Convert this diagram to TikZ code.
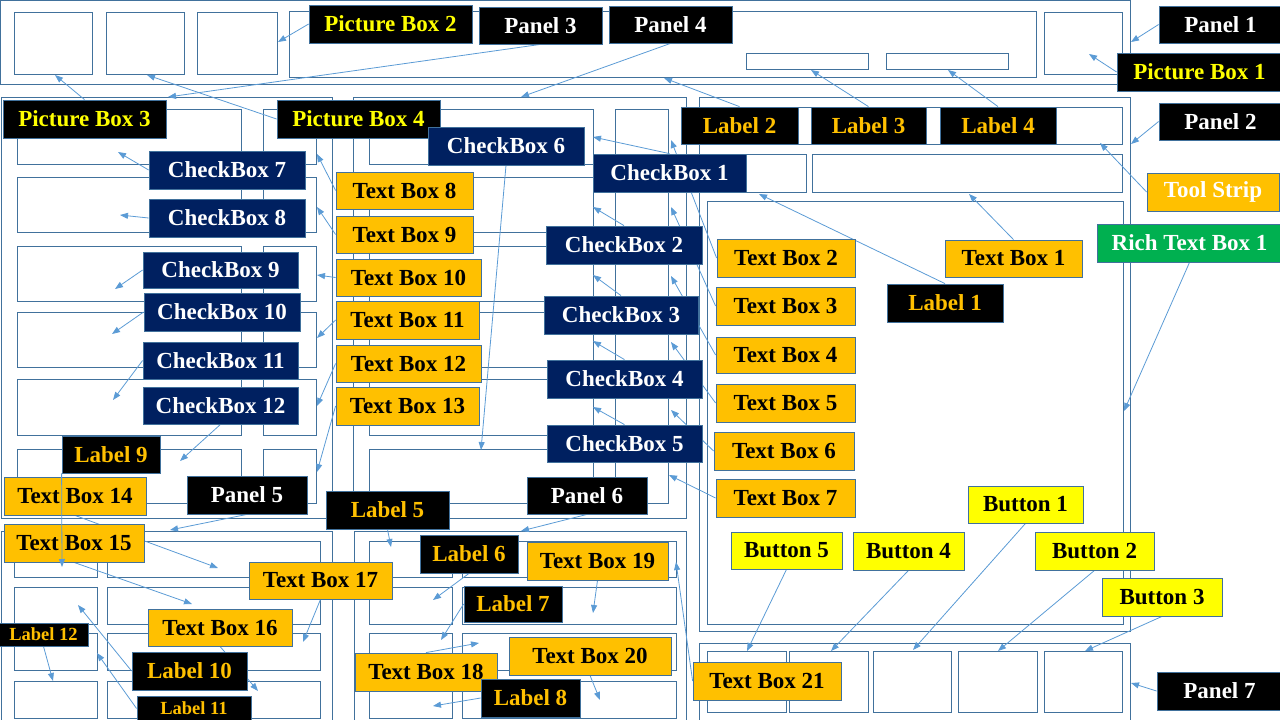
\documentclass[tikz,border=0pt]{standalone}
\usepackage{fontspec}
\setmainfont{Liberation Serif}
\usetikzlibrary{arrows.meta}
\pgfdeclarelayer{wfl}
\pgfdeclarelayer{arl}
\pgfsetlayers{wfl,arl,main}
\definecolor{wirec}{HTML}{41719C}
\definecolor{arrc}{HTML}{5B9BD5}
\definecolor{navy}{HTML}{002060}
\definecolor{orng}{HTML}{FFC000}
\definecolor{grn}{HTML}{00B050}
\definecolor{ylw}{HTML}{FFFF00}
\newcommand\mybox[7]{%
  \pgfmathsetmacro\mbw{#4-#2}\pgfmathsetmacro\mbh{#5-#3}%
  \pgfmathsetmacro\mbx{(#2+#4)/2}\pgfmathsetmacro\mby{(#3+#5)/2}%
  \node[#6, minimum width=\mbw pt, minimum height=\mbh pt] (#1) at (\mbx,\mby) {#7};}
\tikzset{
  base/.style={draw=wirec, line width=0.8pt, inner sep=0pt, font=\bfseries\fontsize{23}{24}\selectfont},
  pnl/.style={base, fill=black, text=white},
  pic/.style={base, fill=black, text=ylw},
  lbl/.style={base, fill=black, text=orng},
  lbs/.style={lbl, font=\bfseries\fontsize{18.5}{19}\selectfont},
  chk/.style={base, fill=navy, text=white},
  txt/.style={base, fill=orng, text=black},
  tsw/.style={base, fill=orng, text=white},
  rtb/.style={base, fill=grn, text=white},
  btn/.style={base, fill=ylw, text=black},
  wf/.style={draw=wirec, line width=0.9pt},
  arr/.style={draw=arrc, line width=0.8pt, -{Triangle[length=8pt,width=6pt]}},
}
\begin{document}
\begin{tikzpicture}[x=1pt,y=-1pt]
\useasboundingbox (0,0) rectangle (1280,720);
% ---------------- wireframe ----------------
\begin{pgfonlayer}{wfl}
% Panel 1
\draw[wf] (0.5,0.5) rectangle (1130,84);
\draw[wf] (14,12) rectangle (92,74);
\draw[wf] (106,12) rectangle (184,74);
\draw[wf] (197,12) rectangle (277,74);
\draw[wf] (289,11) rectangle (1036,77);
\draw[wf] (746,53) rectangle (868,69);
\draw[wf] (886,53) rectangle (1008,69);
\draw[wf] (1044,12) rectangle (1122,74);
% Panels 3,4,5,6
\draw[wf] (1,97) rectangle (332,518);
\draw[wf] (353,97) rectangle (686,518);
\draw[wf] (1,531) rectangle (332,726);
\draw[wf] (354,531) rectangle (686,726);
\foreach \ya/\yb in {109/164,177/232,246/301,312/367,379/435,449/503}{
  \draw[wf] (17,\ya) rectangle (241,\yb);
  \draw[wf] (263,\ya) rectangle (316,\yb);
  \draw[wf] (369,\ya) rectangle (593,\yb);
  \draw[wf] (615,\ya) rectangle (668,\yb);
}
\foreach \ya/\yb in {541/577,587/624,633/670,681/718}{
  \draw[wf] (14,\ya) rectangle (97,\yb);
  \draw[wf] (107,\ya) rectangle (320,\yb);
  \draw[wf] (369,\ya) rectangle (452,\yb);
  \draw[wf] (462,\ya) rectangle (676,\yb);
}
% Panel 2
\draw[wf] (699,97) rectangle (1130,631);
\draw[wf] (707,107) rectangle (1122,144);
\draw[wf] (707,154) rectangle (806,192);
\draw[wf] (812,154) rectangle (1122,192);
\draw[wf] (707,201) rectangle (1123,624);
% Panel 7
\draw[wf] (699,643) rectangle (1130,726);
\foreach \xa/\xb in {707/786,789/868,873/951,958/1037,1044/1122}{
  \draw[wf] (\xa,651) rectangle (\xb,712);
}
\end{pgfonlayer}
% ---------------- targets ----------------
\coordinate (t-pb3) at (55,75);
\coordinate (t-pb4) at (147,75);
\coordinate (t-pb2) at (278,42);
\coordinate (t-p3) at (168,97);
\coordinate (t-p4) at (521,97);
\coordinate (t-p1) at (1131,42);
\coordinate (t-pb1) at (1089,54);
\coordinate (t-p2) at (1131,144);
\coordinate (t-ts) at (1100,143);
\coordinate (t-l2) at (664,78);
\coordinate (t-l3) at (811,70);
\coordinate (t-l4) at (948,70);
\coordinate (t-cb1) at (593,137);
\coordinate (t-cb6) at (481,450);
\coordinate (t-tb1) at (969,194);
\coordinate (t-l1) at (759,194);
\coordinate (t-rtb) at (1124,411);
\coordinate (t-cb2) at (593,207);
\coordinate (t-cb3) at (593,275);
\coordinate (t-cb4) at (593,341);
\coordinate (t-cb5) at (593,407);
\coordinate (t-tb2) at (671,140);
\coordinate (t-tb3) at (671,207);
\coordinate (t-tb4) at (671,276);
\coordinate (t-tb5) at (671,342);
\coordinate (t-tb6) at (671,410);
\coordinate (t-tb7) at (669,475);
\coordinate (t-tb8) at (317,154);
\coordinate (t-tb9) at (317,207);
\coordinate (t-tb10) at (317,275);
\coordinate (t-tb11) at (317,338);
\coordinate (t-tb12) at (317,406);
\coordinate (t-tb13) at (317,472);
\coordinate (t-cb7) at (118,152);
\coordinate (t-cb8) at (120,215);
\coordinate (t-cb9) at (115,289);
\coordinate (t-cb10) at (112,334);
\coordinate (t-cb11) at (113,400);
\coordinate (t-cb12) at (180,461);
\coordinate (t-l9) at (62,567);
\coordinate (t-p5) at (170,530);
\coordinate (t-p6) at (521,531);
\coordinate (t-tb14) at (218,568);
\coordinate (t-tb15) at (192,604);
\coordinate (t-l5) at (391,547);
\coordinate (t-l6) at (433,600);
\coordinate (t-l7) at (441,640);
\coordinate (t-l8) at (433,706);
\coordinate (t-tb18) at (479,643);
\coordinate (t-tb19) at (593,613);
\coordinate (t-tb20) at (600,700);
\coordinate (t-tb17) at (303,642);
\coordinate (t-tb16) at (258,691);
\coordinate (t-l10) at (78,605);
\coordinate (t-l11) at (97,653);
\coordinate (t-l12) at (53,681);
\coordinate (t-tb21) at (676,562);
\coordinate (t-p7) at (1131,683);
\coordinate (t-bt1) at (913,650);
\coordinate (t-bt2) at (998,651);
\coordinate (t-bt3) at (1085,651);
\coordinate (t-bt4) at (831,651);
\coordinate (t-bt5) at (747,651);
% ---------------- nodes ----------------
\mybox{p1}{1159}{6}{1282}{43}{pnl}{Panel 1}
\mybox{p2}{1159}{103}{1282}{140}{pnl}{Panel 2}
\mybox{p3}{479}{7}{602}{44}{pnl}{Panel 3}
\mybox{p4}{609}{6}{732}{43}{pnl}{Panel 4}
\mybox{p5}{187}{476}{307}{514}{pnl}{Panel 5}
\mybox{p6}{527}{477}{647}{514}{pnl}{Panel 6}
\mybox{p7}{1157}{672}{1282}{710}{pnl}{Panel 7}
\mybox{pb1}{1117}{53}{1282}{91}{pic}{Picture Box 1}
\mybox{pb2}{309}{5}{472}{43}{pic}{Picture Box 2}
\mybox{pb3}{3}{100}{166}{138}{pic}{Picture Box 3}
\mybox{pb4}{277}{100}{440}{138}{pic}{Picture Box 4}
\mybox{ts}{1147}{173}{1279}{211}{tsw}{Tool Strip}
\mybox{rtb}{1097}{224}{1282}{262}{rtb}{Rich Text Box 1}
\mybox{l1}{887}{284}{1003}{322}{lbl}{Label 1}
\mybox{l2}{681}{107}{798}{144}{lbl}{Label 2}
\mybox{l3}{811}{107}{926}{144}{lbl}{Label 3}
\mybox{l4}{940}{107}{1056}{144}{lbl}{Label 4}
\mybox{l5}{326}{491}{449}{529}{lbl}{Label 5}
\mybox{l6}{420}{535}{518}{573}{lbl}{Label 6}
\mybox{l7}{464}{586}{562}{622}{lbl}{Label 7}
\mybox{l9}{62}{436}{160}{473}{lbl}{Label 9}
\mybox{l10}{132}{652}{247}{690}{lbl}{Label 10}
\mybox{l11}{137}{696}{251}{721}{lbs}{Label 11}
\mybox{l12}{-1}{623}{88}{646}{lbs}{Label 12}
\mybox{cb1}{593}{154}{746}{192}{chk}{CheckBox 1}
\mybox{cb2}{546}{226}{702}{264}{chk}{CheckBox 2}
\mybox{cb3}{544}{296}{698}{334}{chk}{CheckBox 3}
\mybox{cb4}{547}{360}{702}{398}{chk}{CheckBox 4}
\mybox{cb5}{547}{425}{702}{462}{chk}{CheckBox 5}
\mybox{cb6}{428}{127}{584}{165}{chk}{CheckBox 6}
\mybox{cb7}{149}{151}{305}{189}{chk}{CheckBox 7}
\mybox{cb8}{149}{199}{305}{237}{chk}{CheckBox 8}
\mybox{cb9}{143}{252}{298}{288}{chk}{CheckBox 9}
\mybox{cb10}{144}{293}{300}{331}{chk}{CheckBox 10}
\mybox{cb11}{143}{342}{298}{379}{chk}{CheckBox 11}
\mybox{cb12}{143}{387}{298}{424}{chk}{CheckBox 12}
\mybox{tb1}{945}{240}{1082}{277}{txt}{Text Box 1}
\mybox{tb2}{717}{239}{855}{277}{txt}{Text Box 2}
\mybox{tb3}{716}{287}{855}{325}{txt}{Text Box 3}
\mybox{tb4}{716}{337}{855}{373}{txt}{Text Box 4}
\mybox{tb5}{716}{384}{855}{422}{txt}{Text Box 5}
\mybox{tb6}{714}{432}{854}{470}{txt}{Text Box 6}
\mybox{tb7}{716}{479}{855}{517}{txt}{Text Box 7}
\mybox{tb8}{336}{172}{473}{209}{txt}{Text Box 8}
\mybox{tb9}{336}{216}{473}{253}{txt}{Text Box 9}
\mybox{tb10}{336}{259}{481}{296}{txt}{Text Box 10}
\mybox{tb11}{336}{301}{479}{339}{txt}{Text Box 11}
\mybox{tb12}{336}{345}{481}{382}{txt}{Text Box 12}
\mybox{tb13}{336}{387}{479}{425}{txt}{Text Box 13}
\mybox{tb14}{4}{477}{146}{515}{txt}{Text Box 14}
\mybox{tb15}{4}{524}{144}{562}{txt}{Text Box 15}
\mybox{tb16}{148}{609}{292}{646}{txt}{Text Box 16}
\mybox{tb17}{249}{562}{392}{599}{txt}{Text Box 17}
\mybox{tb18}{355}{653}{497}{691}{txt}{Text Box 18}
\mybox{tb19}{527}{542}{668}{580}{txt}{Text Box 19}
\mybox{tb20}{509}{637}{671}{675}{txt}{Text Box 20}
\mybox{tb21}{693}{662}{841}{700}{txt}{Text Box 21}
\mybox{l8}{481}{679}{580}{717}{lbl}{Label 8}
\mybox{bt1}{968}{486}{1083}{523}{btn}{Button 1}
\mybox{bt2}{1035}{532}{1154}{570}{btn}{Button 2}
\mybox{bt3}{1102}{578}{1222}{616}{btn}{Button 3}
\mybox{bt4}{853}{532}{964}{570}{btn}{Button 4}
\mybox{bt5}{731}{532}{842}{569}{btn}{Button 5}
% ---------------- connectors ----------------
\begin{pgfonlayer}{arl}
\draw[arr] (pb3.north) -- (t-pb3);
\draw[arr] (pb4.west) -- (t-pb4);
\draw[arr] (pb2.west) -- (t-pb2);
\draw[arr] (p3.south) -- (t-p3);
\draw[arr] (p4.south) -- (t-p4);
\draw[arr] (p1.west) -- (t-p1);
\draw[arr] (pb1.west) -- (t-pb1);
\draw[arr] (p2.west) -- (t-p2);
\draw[arr] (ts.west) -- (t-ts);
\draw[arr] (l2.north) -- (t-l2);
\draw[arr] (l3.north) -- (t-l3);
\draw[arr] (l4.north) -- (t-l4);
\draw[arr] (cb1.north) -- (t-cb1);
\draw[arr] (cb6.south) -- (t-cb6);
\draw[arr] (tb1.north) -- (t-tb1);
\draw[arr] (l1.north) -- (t-l1);
\draw[arr] (rtb.south) -- (t-rtb);
\draw[arr] (cb2.north) -- (t-cb2);
\draw[arr] (cb3.north) -- (t-cb3);
\draw[arr] (cb4.north) -- (t-cb4);
\draw[arr] (cb5.north) -- (t-cb5);
\draw[arr] (tb2.west) -- (t-tb2);
\draw[arr] (tb3.west) -- (t-tb3);
\draw[arr] (tb4.west) -- (t-tb4);
\draw[arr] (tb5.west) -- (t-tb5);
\draw[arr] (tb6.west) -- (t-tb6);
\draw[arr] (tb7.west) -- (t-tb7);
\draw[arr] (tb8.west) -- (t-tb8);
\draw[arr] (tb9.west) -- (t-tb9);
\draw[arr] (tb10.west) -- (t-tb10);
\draw[arr] (tb11.west) -- (t-tb11);
\draw[arr] (tb12.west) -- (t-tb12);
\draw[arr] (tb13.west) -- (t-tb13);
\draw[arr] (cb7.west) -- (t-cb7);
\draw[arr] (cb8.west) -- (t-cb8);
\draw[arr] (cb9.west) -- (t-cb9);
\draw[arr] (cb10.west) -- (t-cb10);
\draw[arr] (cb11.west) -- (t-cb11);
\draw[arr] (cb12.south) -- (t-cb12);
\draw[arr] (p5.south) -- (t-p5);
\draw[arr] (p6.south) -- (t-p6);
\draw[arr] (tb14.south) -- (t-tb14);
\draw[arr] (tb15.south) -- (t-tb15);
\draw[arr] (l5.south) -- (t-l5);
\draw[arr] (l6.south) -- (t-l6);
\draw[arr] (l7.west) -- (t-l7);
\draw[arr] (l8.west) -- (t-l8);
\draw[arr] (tb18.north) -- (t-tb18);
\draw[arr] (tb19.south) -- (t-tb19);
\draw[arr] (tb20.south) -- (t-tb20);
\draw[arr] (tb17.south) -- (t-tb17);
\draw[arr] (tb16.south) -- (t-tb16);
\draw[arr] (l10.west) -- (t-l10);
\draw[arr] (l11.west) -- (t-l11);
\draw[arr] (l12.south) -- (t-l12);
\draw[arr] (tb21.west) -- (t-tb21);
\draw[arr] (p7.west) -- (t-p7);
\draw[arr] (bt1.south) -- (t-bt1);
\draw[arr] (bt2.south) -- (t-bt2);
\draw[arr] (bt3.south) -- (t-bt3);
\draw[arr] (bt4.south) -- (t-bt4);
\draw[arr] (bt5.south) -- (t-bt5);
\end{pgfonlayer}
\draw[arr] (l9.south west) -- (t-l9);
\end{tikzpicture}
\end{document}
